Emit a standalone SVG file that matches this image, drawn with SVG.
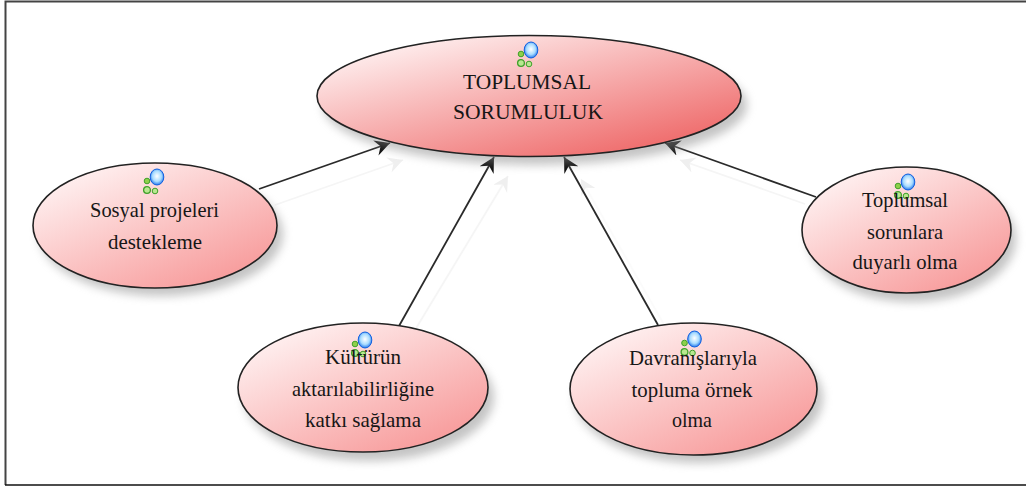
<svg xmlns="http://www.w3.org/2000/svg" width="1026" height="486" viewBox="0 0 1026 486">
<style>
.node{stroke:#222;stroke-width:1.6}
.shadow{fill:#8a8a8a;opacity:.5;filter:url(#blur)}
.t{font-family:"Liberation Serif","Times New Roman",serif;font-size:22px;fill:#161616;text-anchor:middle}
.line{stroke:#2a2a2a;stroke-width:1.8;fill:none;marker-end:url(#arrow)}
.ghost{stroke:#f5f5f5;stroke-width:1.8;fill:none;marker-end:url(#ghostArrow)}
</style>
<defs>
<linearGradient id="g1" x1="0.12" y1="0.05" x2="0.88" y2="0.95"><stop offset="0" stop-color="#fff4f4"/><stop offset="1" stop-color="#ee6464"/></linearGradient>
<linearGradient id="g2" x1="0.12" y1="0.05" x2="0.88" y2="0.95"><stop offset="0" stop-color="#fff4f4"/><stop offset="1" stop-color="#f79797"/></linearGradient>
<radialGradient id="ball" cx="0.5" cy="0.45" r="0.6"><stop offset="0" stop-color="#fff"/><stop offset="0.55" stop-color="#a8dcff"/><stop offset="1" stop-color="#0a62e8"/></radialGradient>
<filter id="blur" x="-20%" y="-20%" width="140%" height="140%"><feGaussianBlur stdDeviation="5"/></filter>
<marker id="arrow" markerUnits="userSpaceOnUse" markerWidth="18" markerHeight="18" refX="15" refY="8" orient="auto"><path d="M0 0L15 8L0 16L5 8Z" fill="#0c0c0c"/></marker>
<marker id="ghostArrow" markerUnits="userSpaceOnUse" markerWidth="18" markerHeight="18" refX="15" refY="8" orient="auto"><path d="M0 0L15 8L0 16L5 8Z" fill="#efefef"/></marker>
<g id="icon">
<circle cx="-5" cy="-7" r="2.800" fill="#8ed04a" stroke="#3fa02a"/>
<circle cx="-5" cy="2" r="3.400" fill="#b8e890" stroke="#3fa02a" stroke-width="1.300"/>
<circle cx="3" cy="3" r="2.800" fill="#b8e890" stroke="#3fa02a"/>
<ellipse cx="5" cy="-11" rx="6.800" ry="8" fill="url(#ball)" stroke="#1060e0"/>
</g>
</defs>
<rect width="1026" height="486" fill="#fff"/>
<path d="M5.500 485V1.500H1026" fill="none" stroke="#444" stroke-width="2"/>
<path d="M5 485H1026" fill="none" stroke="#111" stroke-width="1.500"/>
<g id="connectors">
<path class="ghost" d="M275 205L403 160"/>
<path class="ghost" d="M415 330L508 176"/>
<path class="ghost" d="M670 335L581 179" style="stroke:#fbfbfb"/>
<path class="ghost" d="M805 204L680 160"/>
<path class="line" d="M259 189L390 143"/>
<path class="line" d="M399 326L494 157"/>
<path class="line" d="M658 325L564 157"/>
<path class="line" d="M816 197L665 143"/>
</g>
<g id="node-center">
<ellipse class="shadow" cx="535" cy="105" rx="212" ry="60"/>
<ellipse class="node" cx="529" cy="96" rx="212" ry="60.500" fill="url(#g1)"/>
<use href="#icon" x="526" y="61"/>
<text class="t" x="527" y="89" textLength="128" lengthAdjust="spacingAndGlyphs">TOPLUMSAL</text>
<text class="t" x="528" y="119" textLength="150" lengthAdjust="spacingAndGlyphs">SORUMLULUK</text>
</g>
<g id="node-sosyal">
<ellipse class="shadow" cx="161" cy="234" rx="122" ry="62"/>
<ellipse class="node" cx="155" cy="225.500" rx="122" ry="62.500" fill="url(#g2)"/>
<use href="#icon" x="152" y="188"/>
<text class="t" x="154.500" y="217" textLength="129" lengthAdjust="spacingAndGlyphs">Sosyal projeleri</text>
<text class="t" x="155" y="249" textLength="94" lengthAdjust="spacingAndGlyphs">destekleme</text>
</g>
<g id="node-kultur">
<ellipse class="shadow" cx="369" cy="397" rx="125" ry="64"/>
<ellipse class="node" cx="363" cy="387.500" rx="125" ry="64.500" fill="url(#g2)"/>
<use href="#icon" x="360" y="351"/>
<text class="t" x="363" y="364" textLength="76" lengthAdjust="spacingAndGlyphs">Kültürün</text>
<text class="t" x="363" y="396" textLength="142" lengthAdjust="spacingAndGlyphs">aktarılabilirliğine</text>
<text class="t" x="363" y="427" textLength="116" lengthAdjust="spacingAndGlyphs">katkı sağlama</text>
</g>
<g id="node-davranis">
<ellipse class="shadow" cx="699" cy="398" rx="124" ry="65"/>
<ellipse class="node" cx="693.500" cy="389" rx="123.500" ry="66" fill="url(#g2)"/>
<use href="#icon" x="689.500" y="350"/>
<text class="t" x="693" y="365" textLength="128" lengthAdjust="spacingAndGlyphs">Davranışlarıyla</text>
<text class="t" x="692" y="397" textLength="121" lengthAdjust="spacingAndGlyphs">topluma örnek</text>
<text class="t" x="692" y="427" textLength="40" lengthAdjust="spacingAndGlyphs">olma</text>
</g>
<g id="node-duyarli">
<ellipse class="shadow" cx="912" cy="239" rx="104" ry="63"/>
<ellipse class="node" cx="906.500" cy="230" rx="104.500" ry="63" fill="url(#g2)"/>
<use href="#icon" x="903" y="193"/>
<text class="t" x="905" y="207" textLength="86" lengthAdjust="spacingAndGlyphs">Toplumsal</text>
<text class="t" x="905" y="239" textLength="76" lengthAdjust="spacingAndGlyphs">sorunlara</text>
<text class="t" x="905" y="269" textLength="105" lengthAdjust="spacingAndGlyphs">duyarlı olma</text>
</g>
</svg>
